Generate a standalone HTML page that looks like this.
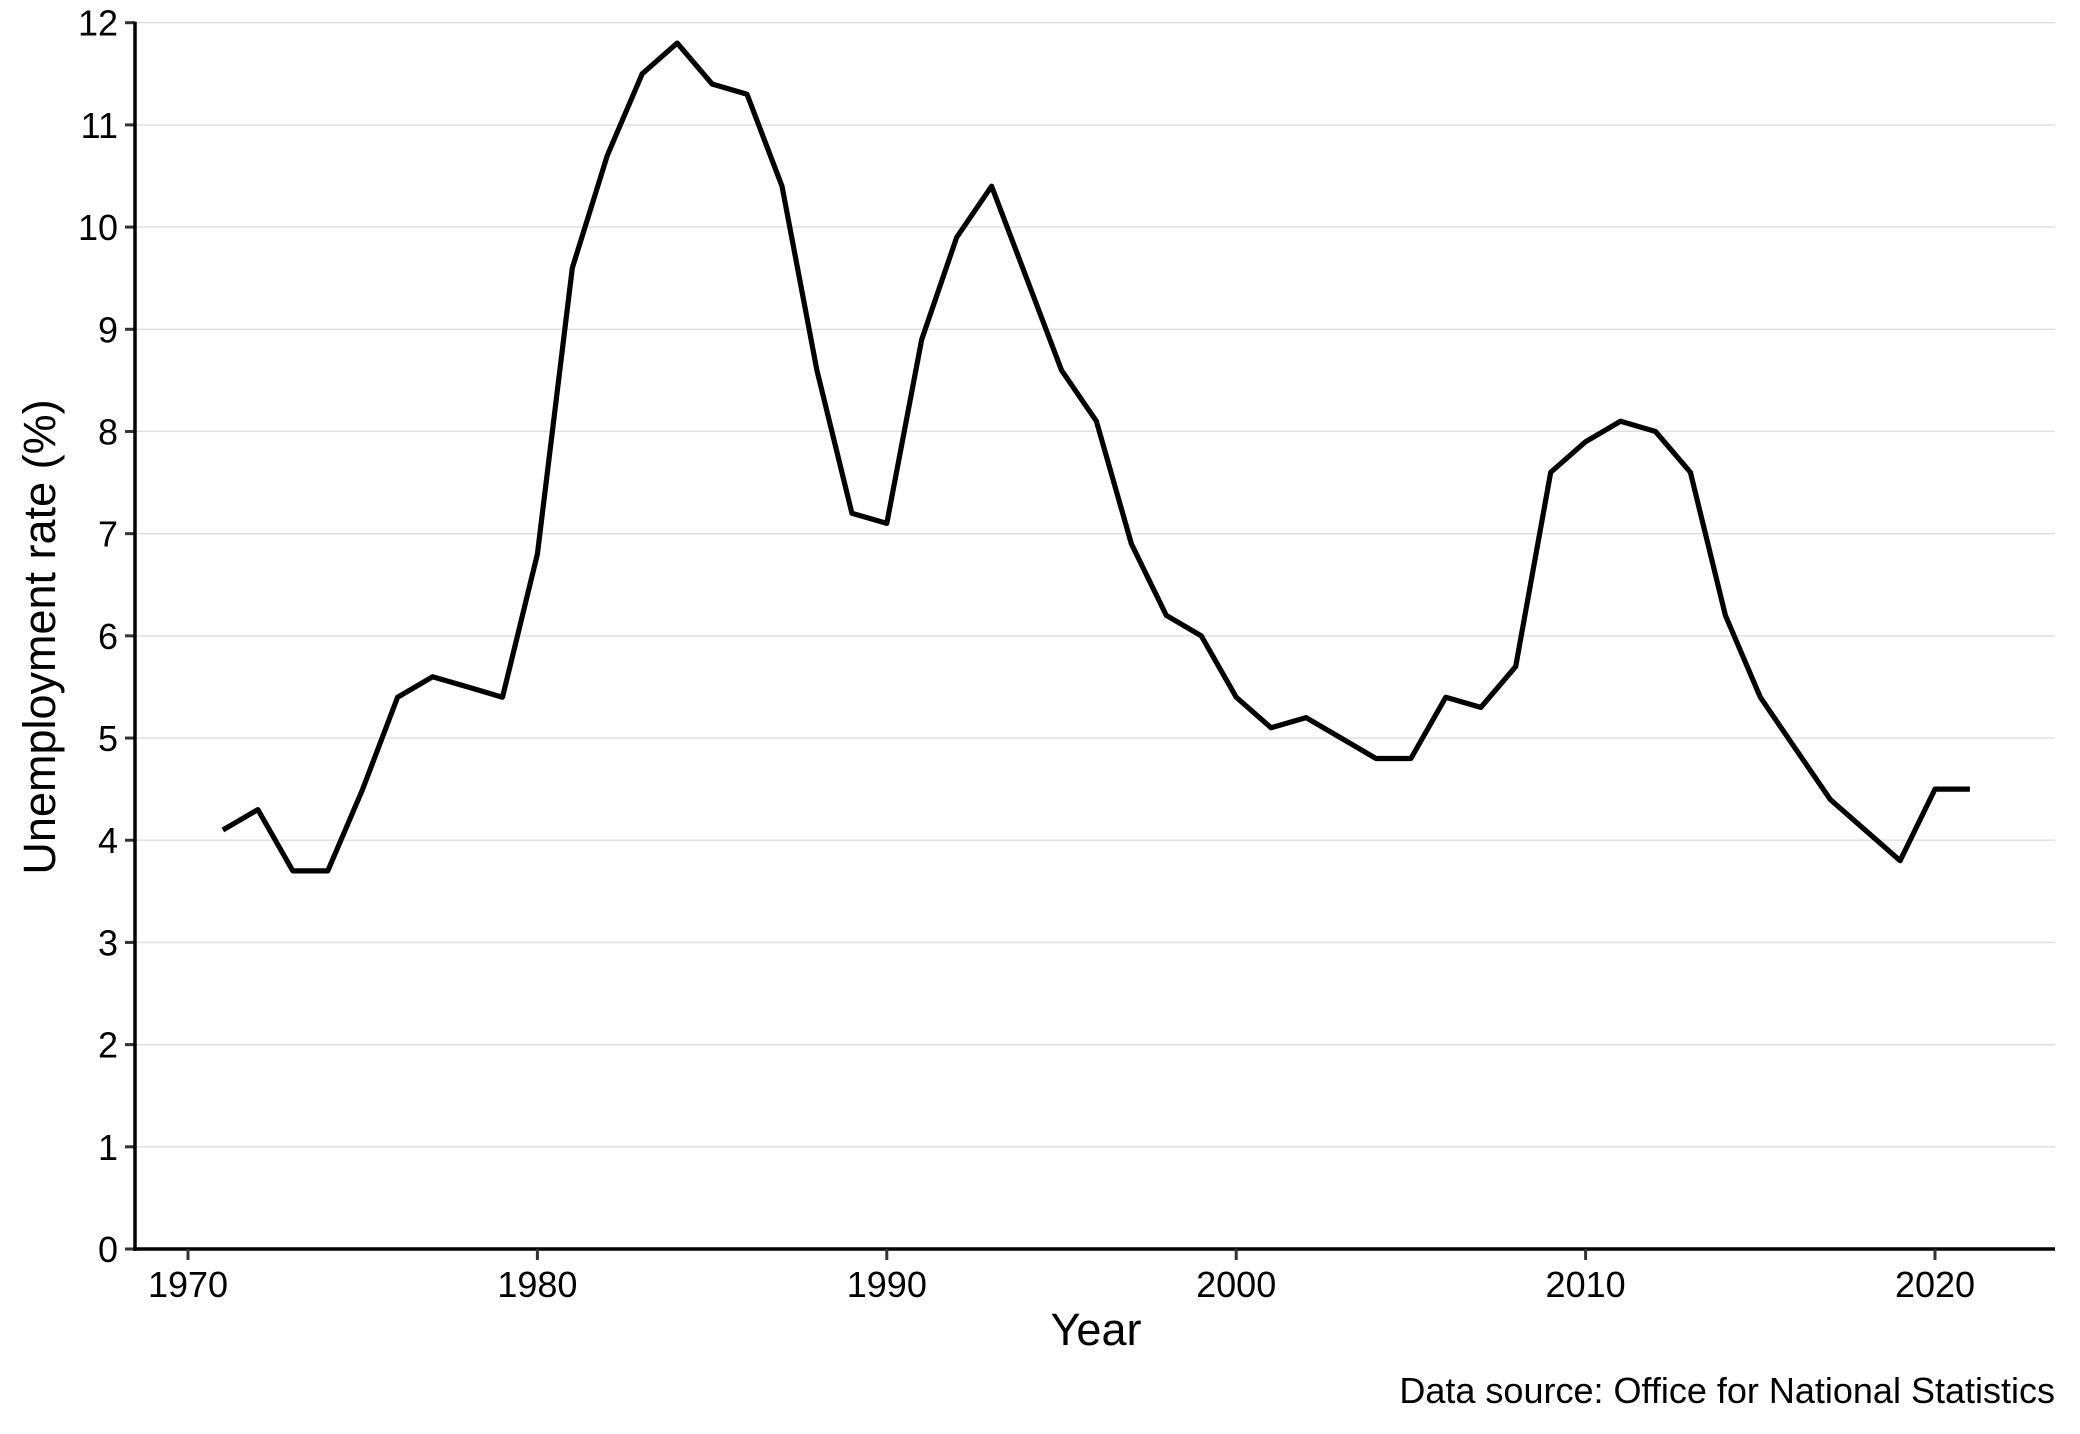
<!DOCTYPE html>
<html><head><meta charset="utf-8"><style>
html,body{margin:0;padding:0;background:#fff}
svg{display:block;font-family:"Liberation Sans",Arial,sans-serif}
</style></head><body>
<svg id="chart" width="2080" height="1434" viewBox="0 0 2080 1434" xmlns="http://www.w3.org/2000/svg">
<g id="grid"></g>
<g id="yaxis"></g>
<g id="xaxis"></g>
<path id="line" fill="none" stroke="#000" stroke-width="5.2" stroke-linejoin="round"/>
<text x="1096" y="1345" font-size="45" text-anchor="middle">Year</text>
<text transform="translate(55,637) rotate(-90)" font-size="45" text-anchor="middle">Unemployment rate (%)</text>
<text x="2055" y="1403" font-size="36" text-anchor="end">Data source: Office for National Statistics</text>
</svg>
<script>
const years = [1971,1972,1973,1974,1975,1976,1977,1978,1979,1980,1981,1982,1983,1984,1985,1986,1987,1988,1989,1990,1991,1992,1993,1994,1995,1996,1997,1998,1999,2000,2001,2002,2003,2004,2005,2006,2007,2008,2009,2010,2011,2012,2013,2014,2015,2016,2017,2018,2019,2020,2021];
const rates = [4.1,4.3,3.7,3.7,4.5,5.4,5.6,5.5,5.4,6.8,9.6,10.7,11.5,11.8,11.4,11.3,10.4,8.6,7.2,7.1,8.9,9.9,10.4,9.5,8.6,8.1,6.9,6.2,6.0,5.4,5.1,5.2,5.0,4.8,4.8,5.4,5.3,5.7,7.6,7.9,8.1,8.0,7.6,6.2,5.4,4.9,4.4,4.1,3.8,4.5,4.5];
const yTicks = [0,1,2,3,4,5,6,7,8,9,10,11,12];
const xTicks = [1970,1980,1990,2000,2010,2020];

const NS='http://www.w3.org/2000/svg';
const X0=135, X1=2055, Y0=1249, Y12=22.7;
function xs(v){return 188 + (v-1970)*(1935-188)/50;}
function ys(v){return Y0 - v*(Y0-Y12)/12;}
function mk(tag,attrs,parent){const e=document.createElementNS(NS,tag);for(const k in attrs)e.setAttribute(k,attrs[k]);parent.appendChild(e);return e;}
const grid=document.getElementById('grid'), ya=document.getElementById('yaxis'), xa=document.getElementById('xaxis');
yTicks.forEach(t=>{
  const y=ys(t);
  if(t>0){const g=mk('line',{x1:X0,x2:X1,y1:y,y2:y,stroke:'#dedede','stroke-width':1.4},grid);
  
  }
  const tk=mk('line',{x1:X0-10,x2:X0,y1:y,y2:y,stroke:'#333','stroke-width':3},ya);
  
  
  const tx=mk('text',{x:X0-17,y:y+13,'font-size':36,'text-anchor':'end'},ya);
  tx.textContent=t;
  
  
});
mk('line',{x1:X0,x2:X0,y1:Y12-1,y2:Y0+2,stroke:'#000','stroke-width':3.5},ya);
mk('line',{x1:X0-2,x2:X1,y1:Y0,y2:Y0,stroke:'#000','stroke-width':3.5},xa);
xTicks.forEach(t=>{
  const x=xs(t);
  const tk=mk('line',{x1:x,x2:x,y1:Y0,y2:Y0+11,stroke:'#333','stroke-width':3},xa);
  
  
  const tx=mk('text',{x:x,y:1297,'font-size':36,'text-anchor':'middle'},xa);
  tx.textContent=t;
  
  
});
document.getElementById('line').setAttribute('d',years.map((yr,i)=>(i?'L':'M')+xs(yr).toFixed(1)+' '+ys(rates[i]).toFixed(1)).join(' '));
</script>
</body></html>
